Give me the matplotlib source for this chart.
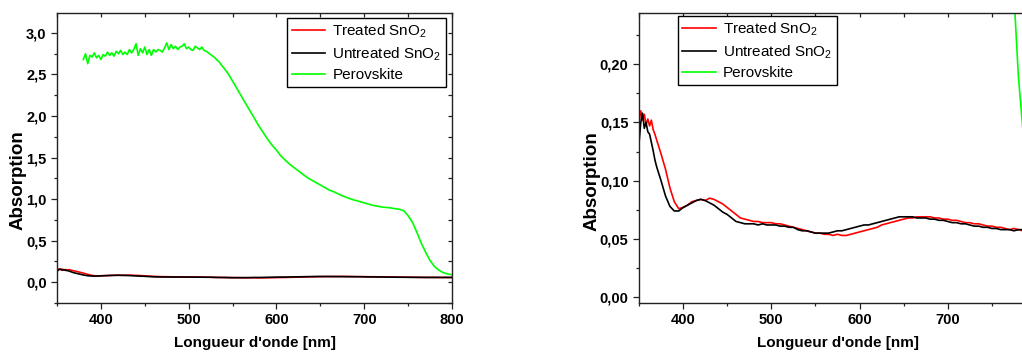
import numpy as np
import matplotlib
matplotlib.use("Agg")
import matplotlib.pyplot as plt
from matplotlib.ticker import MultipleLocator, FixedLocator, FuncFormatter

plt.rcParams['font.family'] = ['Liberation Sans', 'DejaVu Sans']
plt.rcParams['mathtext.default'] = 'regular'

# ---------------- data ----------------
wl_sno2 = [350, 352, 354, 356, 358, 360, 362, 364, 366, 368, 370] + list(range(375, 801, 5))

treated = [0.150, 0.160, 0.152, 0.157, 0.148, 0.153, 0.147, 0.152, 0.144, 0.140, 0.135,
           0.123, 0.110, 0.094, 0.082, 0.076, 0.077, 0.079, 0.082, 0.083, 0.084,
           0.083, 0.085, 0.084, 0.082, 0.080, 0.077, 0.074, 0.071, 0.068, 0.067,
           0.066, 0.065, 0.065, 0.064, 0.064, 0.064, 0.063, 0.063, 0.062, 0.061,
           0.060, 0.059, 0.058, 0.057, 0.056, 0.055, 0.055, 0.054, 0.054, 0.053,
           0.054, 0.053, 0.053, 0.054, 0.055, 0.056, 0.057, 0.058, 0.059, 0.060,
           0.062, 0.063, 0.064, 0.065, 0.066, 0.067, 0.068, 0.068, 0.069, 0.069,
           0.069, 0.069, 0.068, 0.068, 0.067, 0.067, 0.066, 0.066, 0.065, 0.064,
           0.064, 0.063, 0.063, 0.062, 0.061, 0.061, 0.060, 0.060, 0.059, 0.058,
           0.059, 0.058, 0.057, 0.058, 0.057, 0.057]

untreated = [0.132, 0.150, 0.158, 0.145, 0.150, 0.142, 0.140, 0.133, 0.126, 0.118, 0.112,
             0.100, 0.087, 0.078, 0.074, 0.074, 0.077, 0.079, 0.081, 0.083, 0.084,
             0.083, 0.081, 0.079, 0.076, 0.073, 0.071, 0.068, 0.065, 0.064, 0.063,
             0.063, 0.063, 0.062, 0.063, 0.062, 0.062, 0.062, 0.061, 0.061, 0.060,
             0.060, 0.058, 0.057, 0.057, 0.056, 0.055, 0.055, 0.055, 0.055, 0.056,
             0.057, 0.057, 0.058, 0.059, 0.060, 0.061, 0.062, 0.062, 0.063, 0.064,
             0.065, 0.066, 0.067, 0.068, 0.069, 0.069, 0.069, 0.069, 0.068, 0.068,
             0.068, 0.067, 0.067, 0.066, 0.066, 0.065, 0.064, 0.064, 0.063, 0.063,
             0.062, 0.061, 0.061, 0.060, 0.060, 0.059, 0.059, 0.058, 0.058, 0.058,
             0.057, 0.058, 0.058, 0.057, 0.058, 0.057]

wl_pero = list(np.arange(380, 540.1, 2.5)) + list(range(545, 801, 5))
perovskite = [2.68, 2.75, 2.63, 2.73, 2.71, 2.76, 2.70, 2.73, 2.68, 2.74,
              2.72, 2.77, 2.73, 2.76, 2.72, 2.78, 2.75, 2.79, 2.74, 2.77,
              2.74, 2.80, 2.76, 2.80, 2.87, 2.73, 2.81, 2.76, 2.83, 2.74,
              2.80, 2.73, 2.80, 2.77, 2.80, 2.79, 2.77, 2.82, 2.88, 2.80,
              2.86, 2.81, 2.84, 2.80, 2.83, 2.84, 2.87, 2.81, 2.83, 2.80,
              2.79, 2.84, 2.82, 2.80, 2.83, 2.79, 2.78, 2.76, 2.74, 2.72,
              2.70, 2.67, 2.65, 2.61, 2.58,
              2.51, 2.42, 2.33, 2.24, 2.15, 2.06, 1.97, 1.88, 1.80, 1.72,
              1.65, 1.59, 1.52, 1.47, 1.42, 1.38, 1.34, 1.30, 1.26, 1.23,
              1.20, 1.17, 1.14, 1.11, 1.09, 1.065, 1.04, 1.02, 1.00, 0.985,
              0.97, 0.955, 0.94, 0.925, 0.915, 0.905, 0.90, 0.895, 0.885, 0.878,
              0.86, 0.80, 0.72, 0.60, 0.47, 0.36, 0.26, 0.19, 0.145, 0.115,
              0.10, 0.09]

labels = ["Treated SnO$_2$", "Untreated SnO$_2$", "Perovskite"]
colors = ["#ff0000", "#000000", "#00ff00"]

x_major = [400, 500, 600, 700]
x_minor = [350, 450, 550, 650, 750]

# ---------------- figure ----------------
W, H = 1022, 354
fig = plt.figure(figsize=(W / 100, H / 100), dpi=100)

def px_axes(l, t, r, b):
    return fig.add_axes([l / W, (H - b) / H, (r - l) / W, (b - t) / H])

axL = px_axes(57, 13, 452, 303)
axR = px_axes(639, 13, 1036, 303)

comma1 = FuncFormatter(lambda v, p: f"{v:.1f}".replace(".", ","))
comma2 = FuncFormatter(lambda v, p: f"{v:.2f}".replace(".", ","))
ink = "#222222"

for ax in (axL, axR):
    ax.plot(wl_sno2, treated, color=colors[0], lw=1.2, label=labels[0])
    ax.plot(wl_sno2, untreated, color=colors[1], lw=1.2, label=labels[1])
    ax.plot(wl_pero, perovskite, color=colors[2], lw=1.2, label=labels[2])
    ax.set_xlim(350, 800)
    for s in ax.spines.values():
        s.set_linewidth(1.0)
        s.set_color(ink)
    ax.tick_params(which="both", direction="out", top=False, right=False,
                   labelsize=10.5, width=0.9, color=ink)
    ax.tick_params(which="major", length=4)
    ax.tick_params(which="minor", length=2.5)
    ax.set_xlabel("Longueur d'onde [nm]", fontsize=11, fontweight="bold", labelpad=6)
    ax.set_ylabel("Absorption", fontsize=13.5, fontweight="bold")
    axt = ax.secondary_xaxis('top')
    axt.xaxis.set_major_locator(MultipleLocator(100))
    axt.xaxis.set_minor_locator(MultipleLocator(50))
    axt.tick_params(which="both", direction="in", labeltop=False, length=3, width=0.9, color=ink)
    axt.spines['top'].set_visible(False)

axL.xaxis.set_major_locator(FixedLocator(x_major + [800]))
axL.xaxis.set_minor_locator(FixedLocator(x_minor))
axR.xaxis.set_major_locator(FixedLocator(x_major))
axR.xaxis.set_minor_locator(FixedLocator(x_minor))

axL.set_ylim(-0.25, 3.24)
axL.yaxis.set_major_locator(MultipleLocator(0.5))
axL.yaxis.set_minor_locator(MultipleLocator(0.25))
axL.yaxis.set_major_formatter(comma1)
axr = axL.secondary_yaxis('right')
axr.yaxis.set_major_locator(MultipleLocator(0.5))
axr.yaxis.set_minor_locator(MultipleLocator(0.25))
axr.tick_params(which="both", direction="in", labelright=False, length=3, width=0.9, color=ink)
axr.spines['right'].set_visible(False)

axR.set_ylim(-0.005, 0.244)
axR.yaxis.set_major_locator(MultipleLocator(0.05))
axR.yaxis.set_minor_locator(MultipleLocator(0.025))
axR.yaxis.set_major_formatter(comma2)

axL.yaxis.set_label_coords(-0.078, 0.424)
axR.yaxis.set_label_coords(-0.098, 0.42)

for ax in (axL, axR):
    for lab in ax.get_xticklabels() + ax.get_yticklabels():
        lab.set_fontweight("bold")

legkw = dict(fontsize=11, frameon=True, fancybox=False, framealpha=1,
             edgecolor="black", handlelength=2.2, handletextpad=0.45,
             labelspacing=0.35, borderpad=0.3, borderaxespad=0)
lgL = axL.legend(loc="upper right", bbox_to_anchor=(0.985, 0.983), **legkw)
lgR = axR.legend(loc="upper left", bbox_to_anchor=(0.098, 0.990), **legkw)
for lg in (lgL, lgR):
    lg.get_frame().set_linewidth(1.0)

fig.savefig("out.png", dpi=100)
